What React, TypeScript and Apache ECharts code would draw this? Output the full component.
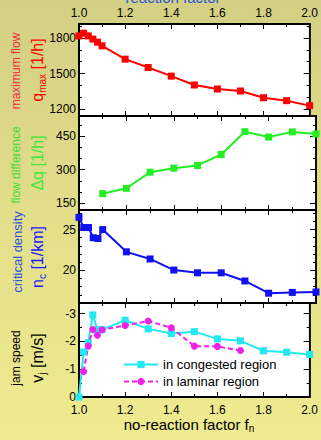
import React, { useEffect, useRef } from 'react';
import * as echarts from 'echarts';

// ---- data ----
const fnAll = [1.0, 1.02, 1.04, 1.06, 1.08, 1.1, 1.2, 1.3, 1.4, 1.5, 1.6, 1.7, 1.8, 1.9, 2.0];
const qMax = [1819, 1842, 1819, 1792, 1766, 1735, 1622, 1551, 1478, 1403, 1369, 1352, 1295, 1270, 1228];
const fnDq = [1.1, 1.2, 1.3, 1.4, 1.5, 1.6, 1.7, 1.8, 1.9, 2.0];
const dq = [193, 217, 289, 307, 319, 368, 470, 446, 469, 460];
const nc = [26.5, 25.25, 25.25, 24.0, 23.9, 25.0, 22.27, 21.4, 20.04, 19.7, 19.7, 18.7, 17.2, 17.3, 17.35];
const vjCongested = [0, -1.62, -1.95, -2.95, -2.42, -2.42, -2.76, -2.45, -2.28, -2.35, -2.09, -2.02, -1.66, -1.61, -1.53];
const fnLaminar = [1.02, 1.04, 1.06, 1.08, 1.1, 1.2, 1.3, 1.4, 1.5, 1.6, 1.7];
const vjLaminar = [-0.92, -1.83, -2.43, -2.22, -2.42, -2.57, -2.73, -2.49, -1.83, -1.82, -1.67];

// tick values
const qLabels = [1200, 1500, 1800];
const qMinor = [1200, 1300, 1400, 1500, 1600, 1700, 1800, 1900];
const dqLabels = [150, 300, 450];
const dqMinor = [150, 200, 250, 300, 350, 400, 450, 500];
const ncLabels = [20, 25];
const ncMinor = [16, 17, 18, 19, 20, 21, 22, 23, 24, 25, 26, 27];
const vjLabels = [-3, -2, -1, 0];
const vjMinor = [-3, -2.5, -2, -1.5, -1, -0.5, 0];

const seriesNames = ['in congested region', 'in laminar region'];

const FONT = 'Liberation Sans, Arial, sans-serif';

const panels = [
  { top: 24, height: 92, min: 1140, max: 1920, inverse: false, labels: qLabels, minor: qMinor },
  { top: 116, height: 94, min: 120, max: 540, inverse: false, labels: dqLabels, minor: dqMinor },
  { top: 210, height: 93, min: 16, max: 27.4, inverse: false, labels: ncLabels, minor: ncMinor },
  { top: 303, height: 94, min: -3.38, max: 0, inverse: true, labels: vjLabels, minor: vjMinor },
];

function buildOption() {
  const grid = panels.map((p) => ({
    left: 79,
    right: 5,
    top: p.top,
    height: p.height,
    show: true,
    backgroundColor: '#ffffff',
    borderColor: '#000',
    borderWidth: 1.5,
  }));

  const xAxis: any[] = [];
  panels.forEach((p, i) => {
    ['bottom', 'top'].forEach((pos) => {
      const showLabel = (pos === 'bottom' && i === 3) || (pos === 'top' && i === 0);
      xAxis.push({
        type: 'value',
        gridIndex: i,
        position: pos,
        min: 1,
        max: 2,
        interval: 0.2,
        axisLine: { show: true, onZero: false, lineStyle: { color: '#000', width: 2 } },
        axisTick: { show: true, inside: true, length: 5, lineStyle: { color: '#000', width: 1 } },
        minorTick: { show: true, splitNumber: 2, length: 3, lineStyle: { color: '#000', width: 1 } },
        splitLine: { show: false },
        minorSplitLine: { show: false },
        axisLabel: {
          show: showLabel,
          color: '#000',
          fontSize: 12,
          fontFamily: FONT,
          margin: pos === 'bottom' ? 7 : 5,
          showMinLabel: true,
          showMaxLabel: true,
          formatter: (v: number) => v.toFixed(1),
        },
      });
    });
  });

  const yAxis: any[] = [];
  panels.forEach((p, i) => {
    const base = {
      type: 'value',
      gridIndex: i,
      min: p.min,
      max: p.max,
      inverse: p.inverse,
      splitLine: { show: false },
    };
    // left major
    yAxis.push({
      ...base,
      position: 'left',
      axisLine: { show: true, onZero: false, lineStyle: { color: '#000', width: 2 } },
      axisTick: { show: true, inside: true, length: 6, customValues: p.labels, lineStyle: { color: '#000', width: 1 } },
      axisLabel: {
        show: true,
        customValues: p.labels,
        color: '#000',
        fontSize: 12,
        fontFamily: FONT,
        margin: 3,
        formatter: (v: number) => String(v),
      },
    });
    // left minor
    yAxis.push({
      ...base,
      position: 'left',
      axisLine: { show: false, onZero: false },
      axisTick: { show: true, inside: true, length: 3, customValues: p.minor, lineStyle: { color: '#000', width: 1 } },
      axisLabel: { show: false },
    });
    // right major
    yAxis.push({
      ...base,
      position: 'right',
      axisLine: { show: true, onZero: false, lineStyle: { color: '#000', width: 1.5 } },
      axisTick: { show: true, inside: true, length: 6, customValues: p.labels, lineStyle: { color: '#000', width: 1 } },
      axisLabel: { show: false },
    });
    // right minor
    yAxis.push({
      ...base,
      position: 'right',
      axisLine: { show: false, onZero: false },
      axisTick: { show: true, inside: true, length: 3, customValues: p.minor, lineStyle: { color: '#000', width: 1 } },
      axisLabel: { show: false },
    });
  });

  const lineBase = { type: 'line', clip: false, z: 5 };

  const series: any[] = [
    {
      ...lineBase,
      name: 'qmax',
      xAxisIndex: 0,
      yAxisIndex: 0,
      data: fnAll.map((x, k) => [x, qMax[k]]),
      symbol: 'rect',
      symbolSize: 7,
      lineStyle: { color: '#ff0000', width: 2 },
      itemStyle: { color: '#ff0000' },
    },
    {
      ...lineBase,
      name: 'dq',
      xAxisIndex: 2,
      yAxisIndex: 4,
      data: fnDq.map((x, k) => [x, dq[k]]),
      symbol: 'rect',
      symbolSize: 7,
      lineStyle: { color: '#22ee22', width: 2 },
      itemStyle: { color: '#22ee22' },
    },
    {
      ...lineBase,
      name: 'nc',
      xAxisIndex: 4,
      yAxisIndex: 8,
      data: fnAll.map((x, k) => [x, nc[k]]),
      symbol: 'rect',
      symbolSize: 7,
      lineStyle: { color: '#1010f0', width: 2 },
      itemStyle: { color: '#1010f0' },
    },
    {
      ...lineBase,
      name: seriesNames[0],
      xAxisIndex: 6,
      yAxisIndex: 12,
      data: fnAll.map((x, k) => [x, vjCongested[k]]),
      symbol: 'rect',
      symbolSize: 7,
      lineStyle: { color: '#22e8f0', width: 2 },
      itemStyle: { color: '#22e8f0' },
    },
    {
      ...lineBase,
      name: seriesNames[1],
      xAxisIndex: 6,
      yAxisIndex: 12,
      data: fnLaminar.map((x, k) => [x, vjLaminar[k]]),
      symbol: 'circle',
      symbolSize: 7,
      lineStyle: { color: '#f020e8', width: 2, type: [5, 3] },
      itemStyle: { color: '#f020e8' },
    },
  ];

  const sym = (x: number, y: number, main: string, sub: string, rest: string, color: string) => ({
    type: 'text',
    x,
    y,
    rotation: Math.PI / 2,
    style: {
      text: sub ? `{a|${main}}{b|${sub}}{a|${rest}}` : `{a|${main}${rest}}`,
      align: 'center',
      verticalAlign: 'middle',
      rich: {
        a: { fontSize: 16, fontFamily: FONT, fill: color, lineHeight: 20 },
        b: { fontSize: 10, fontFamily: FONT, fill: color, lineHeight: 10, verticalAlign: 'bottom' },
      },
    },
  });
  const desc = (x: number, y: number, text: string, color: string, size: number) => ({
    type: 'text',
    x,
    y,
    rotation: Math.PI / 2,
    style: {
      text,
      align: 'center',
      verticalAlign: 'middle',
      fontSize: size,
      fontFamily: FONT,
      fill: color,
    },
  });

  const graphic: any[] = [
    {
      type: 'text',
      x: 173,
      y: 5,
      style: {
        text: 'reaction factor',
        align: 'center',
        verticalAlign: 'bottom',
        fontSize: 15,
        fontFamily: FONT,
        fill: '#2a55dc',
      },
    },
    {
      type: 'text',
      x: 189,
      y: 424,
      style: {
        text: '{a|no-reaction factor f}{b|n}',
        align: 'center',
        verticalAlign: 'middle',
        rich: {
          a: { fontSize: 15, fontFamily: FONT, fill: '#000', lineHeight: 18 },
          b: { fontSize: 10, fontFamily: FONT, fill: '#000', lineHeight: 8, verticalAlign: 'bottom' },
        },
      },
    },
    desc(16, 71, 'maximum flow', '#f0283a', 12),
    sym(37, 70, 'q', 'max', ' [1/h]', '#ff0000'),
    desc(16, 165, 'flow difference', '#3cdc3c', 12),
    sym(37, 163, 'Δq', '', ' [1/h]', '#3ce83c'),
    desc(17, 252, 'critical density', '#2a55dc', 13),
    sym(37, 257, 'n', 'c', ' [1/km]', '#1a1aff'),
    desc(16, 358, 'jam speed', '#000', 12),
    sym(37, 358, 'v', 'j', ' [m/s]', '#000'),
  ];

  return {
    animation: false,
    backgroundColor: 'transparent',
    grid,
    xAxis,
    yAxis,
    series,
    graphic,
    legend: {
      data: seriesNames,
      orient: 'vertical',
      left: 123,
      top: 358,
      padding: 0,
      itemWidth: 34,
      itemHeight: 9,
      itemGap: 4,
      textStyle: { fontSize: 13, fontFamily: FONT, color: '#000' },
    },
  };
}

export default function App() {
  const ref = useRef<HTMLDivElement>(null);
  useEffect(() => {
    if (!ref.current) return;
    const chart = echarts.init(ref.current, undefined, { renderer: 'svg' });
    chart.setOption(buildOption() as any);
    return () => chart.dispose();
  }, []);
  return (
    <div
      style={{
        position: 'fixed',
        left: 0,
        top: 0,
        width: 321,
        height: 440,
        background: 'linear-gradient(180deg, #d3cf84 0%, #e2de8a 50%, #efeb90 100%)',
      }}
    >
      <div ref={ref} style={{ width: 321, height: 440 }} />
    </div>
  );
}
